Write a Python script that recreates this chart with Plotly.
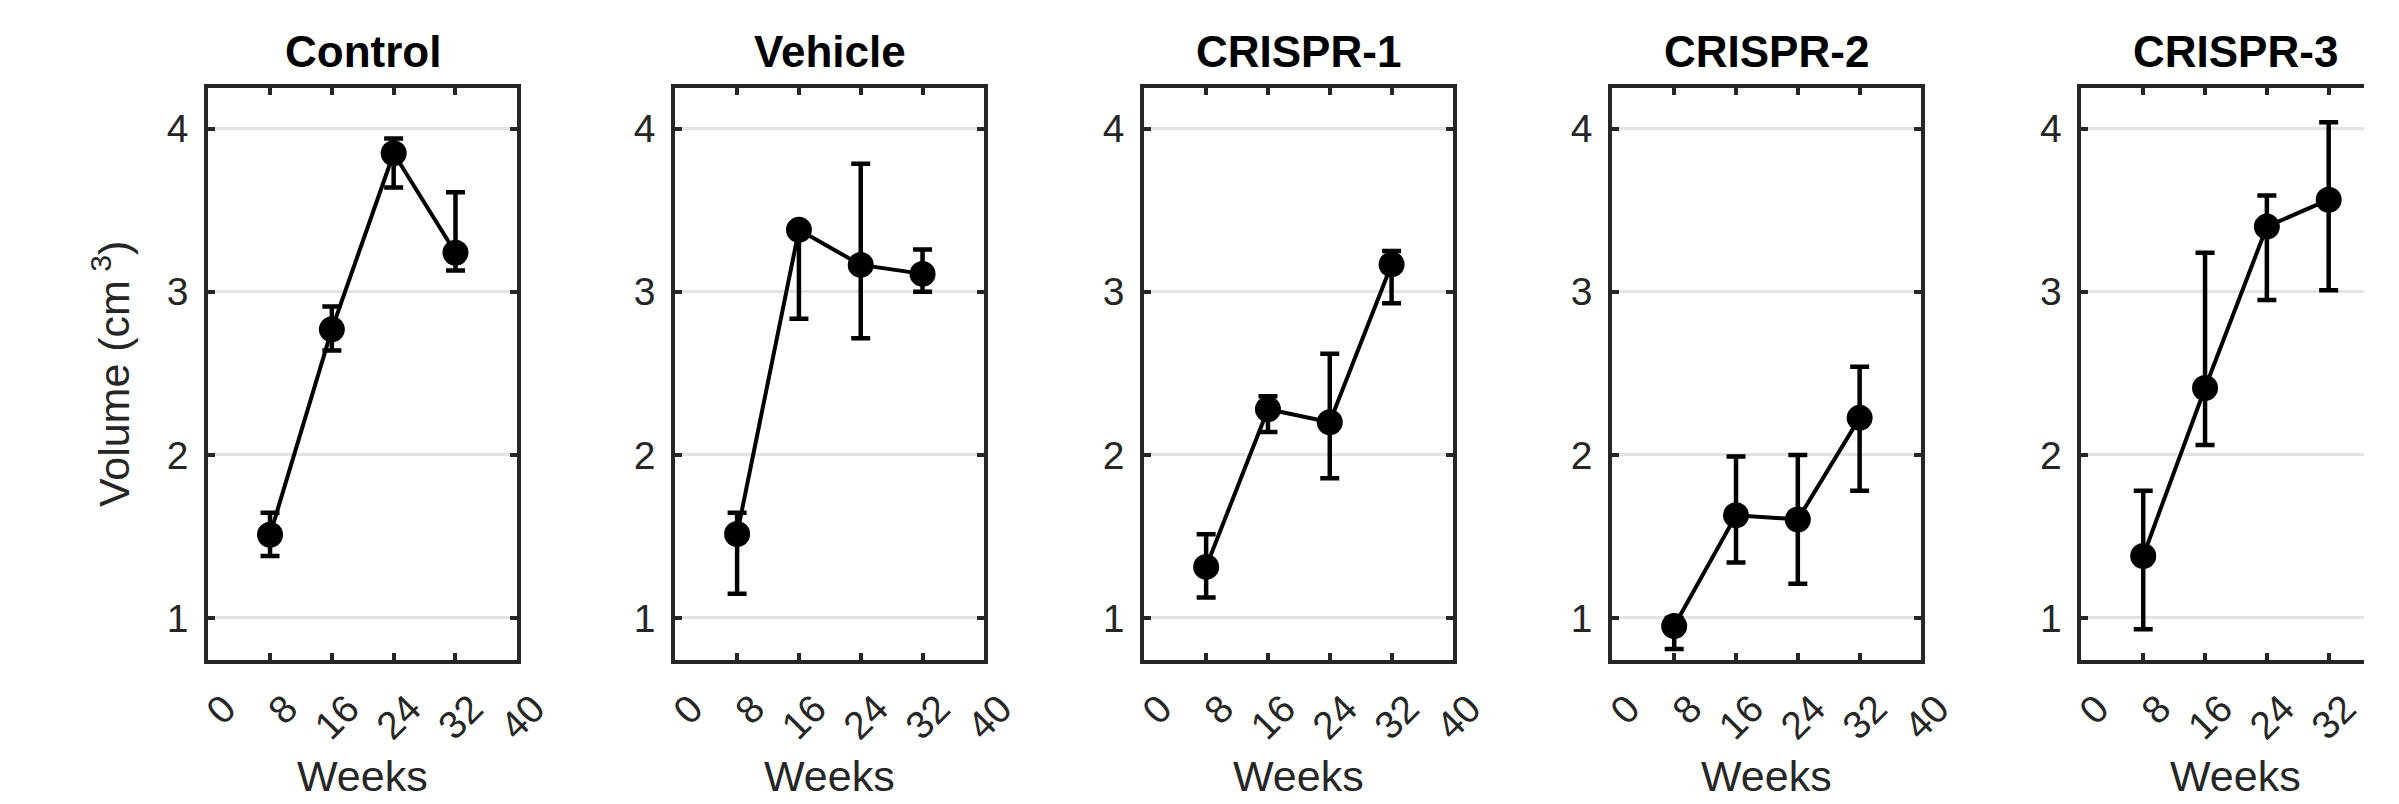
import plotly.graph_objects as go

# ---- data ----
weeks = [8, 16, 24, 32]
groups = ["Control", "Vehicle", "CRISPR-1", "CRISPR-2", "CRISPR-3"]

control_mean = [1.51, 2.77, 3.85, 3.24]
control_hi = [1.645, 2.91, 3.94, 3.61]
control_lo = [1.38, 2.64, 3.64, 3.13]

vehicle_mean = [1.515, 3.38, 3.165, 3.11]
vehicle_hi = [1.645, 3.40, 3.785, 3.26]
vehicle_lo = [1.148, 2.835, 2.715, 3.00]

crispr1_mean = [1.313, 2.28, 2.20, 3.168]
crispr1_hi = [1.513, 2.36, 2.62, 3.25]
crispr1_lo = [1.126, 2.14, 1.856, 2.93]

crispr2_mean = [0.95, 1.63, 1.604, 2.227]
crispr2_hi = [1.0, 1.99, 2.0, 2.54]
crispr2_lo = [0.81, 1.34, 1.21, 1.78]

crispr3_mean = [1.38, 2.41, 3.40, 3.565]
crispr3_hi = [1.78, 3.24, 3.59, 4.04]
crispr3_lo = [0.93, 2.06, 2.95, 3.01]

x_ticks = [0, 8, 16, 24, 32, 40]
y_ticks = [1, 2, 3, 4]

series = [
    (control_mean, control_hi, control_lo),
    (vehicle_mean, vehicle_hi, vehicle_lo),
    (crispr1_mean, crispr1_hi, crispr1_lo),
    (crispr2_mean, crispr2_hi, crispr2_lo),
    (crispr3_mean, crispr3_hi, crispr3_lo),
]

# ---- layout geometry (pixels) ----
W, H = 2399, 804
panel_left = [202, 678, 1156, 1633, 2111]
panel_w = 315
top_px, bot_px = 88, 660
FONT = "Liberation Sans, Arial, Helvetica, sans-serif"
AX = "#262626"

fig = go.Figure()
annotations = []
for i, (g, (m, hi, lo)) in enumerate(zip(groups, series)):
    n = "" if i == 0 else str(i + 1)
    x0 = panel_left[i] / W
    x1 = (panel_left[i] + panel_w) / W
    xmax = 40
    if x1 > 1:
        xmax = 40 * (W - panel_left[i]) / panel_w
        x1 = 1.0
    plus = [h - v for h, v in zip(hi, m)]
    minus = [v - l for v, l in zip(m, lo)]
    fig.add_trace(go.Scatter(
        x=weeks, y=m, mode="lines+markers",
        line=dict(color="black", width=4),
        marker=dict(color="black", size=26),
        error_y=dict(type="data", symmetric=False, array=plus, arrayminus=minus,
                     color="black", thickness=4.5, width=9.5),
        xaxis="x" + n, yaxis="y" + n, showlegend=False,
    ))
    fig.update_layout(**{
        "xaxis" + n: dict(
            domain=[x0, x1], range=[0, xmax], tickvals=x_ticks,
            ticktext=[str(t) for t in x_ticks], tickangle=-45,
            ticklabelshift=16, ticklabelstandoff=6,
            ticks="inside", ticklen=7, tickwidth=4, tickcolor=AX,
            showline=True, linewidth=4, linecolor=AX, mirror="ticks",
            showgrid=False, zeroline=False, anchor="y" + n,
            tickfont=dict(family=FONT, size=39, color=AX),
        ),
        "yaxis" + n: dict(
            domain=[1 - bot_px / H, 1 - top_px / H], range=[0.742, 4.25],
            tickvals=y_ticks, ticks="inside", ticklen=7, tickwidth=4, tickcolor=AX,
            ticklabelstandoff=8,
            showline=True, linewidth=4, linecolor=AX,
            mirror=("ticks" if i < 4 else False),
            showgrid=True, gridcolor="#e3e3e3", gridwidth=3, zeroline=False,
            anchor="x" + n,
            tickfont=dict(family=FONT, size=39, color=AX),
        ),
    })
    cx = (panel_left[i] + panel_w / 2) / W
    annotations.append(dict(
        text="<b>" + g + "</b>", x=cx, y=1 - 51 / H, xref="paper", yref="paper",
        xanchor="center", yanchor="middle", showarrow=False,
        font=dict(family=FONT, size=44, color="black"),
    ))
    annotations.append(dict(
        text="Weeks", x=cx, y=1 - 776 / H, xref="paper", yref="paper",
        xanchor="center", yanchor="middle", showarrow=False,
        font=dict(family=FONT, size=43, color=AX),
    ))

annotations.append(dict(
    text="Volume (cm<sup> 3</sup>)", x=103 / W, y=1 - 374 / H, xref="paper", yref="paper",
    xanchor="center", yanchor="middle", textangle=-90, showarrow=False,
    font=dict(family=FONT, size=43, color=AX),
))

fig.update_layout(
    width=W, height=H, margin=dict(l=0, r=0, t=0, b=0),
    paper_bgcolor="white", plot_bgcolor="white",
    annotations=annotations,
)

fig.write_html("out.html", post_script="document.body.style.margin='0';")
